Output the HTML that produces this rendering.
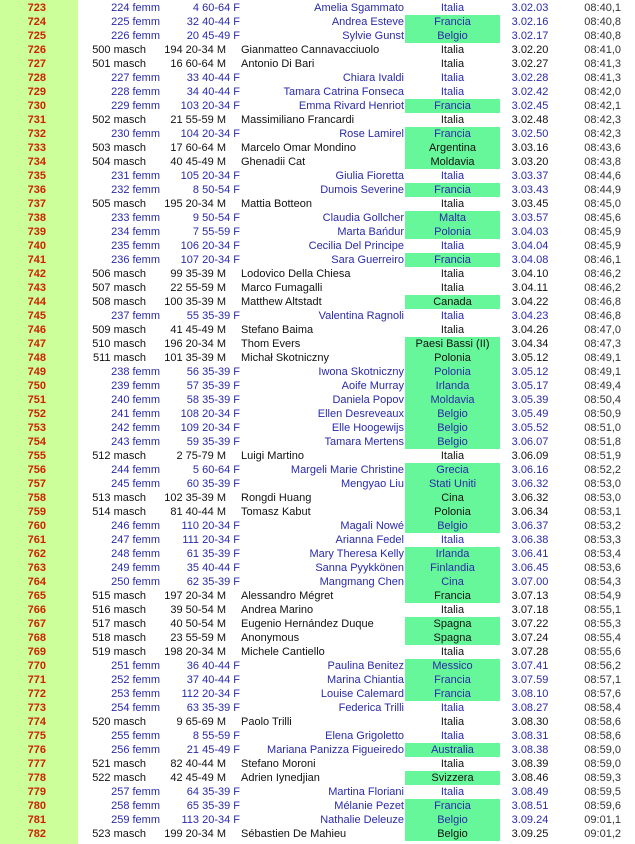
<!DOCTYPE html>
<html><head><meta charset="utf-8"><style>
html,body{margin:0;padding:0;background:#fff;width:635px;height:844px;overflow:hidden}
body{position:relative;font-family:"Liberation Sans",Arial,sans-serif;font-size:11px}
#band{position:absolute;left:0;top:0;width:78px;height:844px;background:#ccff99}
table{position:absolute;left:0;top:1px;border-collapse:collapse;table-layout:fixed;width:635px}
td{height:14px;padding:0;line-height:14px;white-space:nowrap;overflow:visible;color:#111}
td:nth-child(1){width:78px;text-align:right;padding-right:32px;box-sizing:border-box;color:#cc2200;font-weight:bold}
td:nth-child(2){width:85px;text-align:right;box-sizing:border-box;padding-right:17px}
td:nth-child(3){width:77px;text-align:right;box-sizing:border-box;padding-right:14px}
td:nth-child(4){width:165px;text-align:left;box-sizing:border-box;padding-left:1px}
td:nth-child(5){width:95px;text-align:center}
td:nth-child(6){width:60px;text-align:center}
td:nth-child(7){width:75px;text-align:right;box-sizing:border-box;padding-right:14px;color:#333}
tr.f td:nth-child(2){padding-right:3px;color:#2a2aa8}
tr.f td:nth-child(3){padding-right:0;color:#2a2aa8}
tr.f td:nth-child(4){text-align:right;padding-left:0;padding-right:1px;color:#2a2aa8}
tr.f td:nth-child(5),tr.f td:nth-child(6){color:#2a2aa8}
td.g{background:#66f79a}
</style></head><body>
<div id="band"></div>
<table>
<tr class="f"><td>723</td><td>224 femm</td><td>4 60-64 F</td><td>Amelia Sgammato</td><td>Italia</td><td>3.02.03</td><td>08:40,1</td></tr>
<tr class="f"><td>724</td><td>225 femm</td><td>32 40-44 F</td><td>Andrea Esteve</td><td class="g">Francia</td><td>3.02.16</td><td>08:40,8</td></tr>
<tr class="f"><td>725</td><td>226 femm</td><td>20 45-49 F</td><td>Sylvie Gunst</td><td class="g">Belgio</td><td>3.02.17</td><td>08:40,8</td></tr>
<tr><td>726</td><td>500 masch</td><td>194 20-34 M</td><td>Gianmatteo Cannavacciuolo</td><td>Italia</td><td>3.02.20</td><td>08:41,0</td></tr>
<tr><td>727</td><td>501 masch</td><td>16 60-64 M</td><td>Antonio Di Bari</td><td>Italia</td><td>3.02.27</td><td>08:41,3</td></tr>
<tr class="f"><td>728</td><td>227 femm</td><td>33 40-44 F</td><td>Chiara Ivaldi</td><td>Italia</td><td>3.02.28</td><td>08:41,3</td></tr>
<tr class="f"><td>729</td><td>228 femm</td><td>34 40-44 F</td><td>Tamara Catrina Fonseca</td><td>Italia</td><td>3.02.42</td><td>08:42,0</td></tr>
<tr class="f"><td>730</td><td>229 femm</td><td>103 20-34 F</td><td>Emma Rivard Henriot</td><td class="g">Francia</td><td>3.02.45</td><td>08:42,1</td></tr>
<tr><td>731</td><td>502 masch</td><td>21 55-59 M</td><td>Massimiliano Francardi</td><td>Italia</td><td>3.02.48</td><td>08:42,3</td></tr>
<tr class="f"><td>732</td><td>230 femm</td><td>104 20-34 F</td><td>Rose Lamirel</td><td class="g">Francia</td><td>3.02.50</td><td>08:42,3</td></tr>
<tr><td>733</td><td>503 masch</td><td>17 60-64 M</td><td>Marcelo Omar Mondino</td><td class="g">Argentina</td><td>3.03.16</td><td>08:43,6</td></tr>
<tr><td>734</td><td>504 masch</td><td>40 45-49 M</td><td>Ghenadii Cat</td><td class="g">Moldavia</td><td>3.03.20</td><td>08:43,8</td></tr>
<tr class="f"><td>735</td><td>231 femm</td><td>105 20-34 F</td><td>Giulia Fioretta</td><td>Italia</td><td>3.03.37</td><td>08:44,6</td></tr>
<tr class="f"><td>736</td><td>232 femm</td><td>8 50-54 F</td><td>Dumois Severine</td><td class="g">Francia</td><td>3.03.43</td><td>08:44,9</td></tr>
<tr><td>737</td><td>505 masch</td><td>195 20-34 M</td><td>Mattia Botteon</td><td>Italia</td><td>3.03.45</td><td>08:45,0</td></tr>
<tr class="f"><td>738</td><td>233 femm</td><td>9 50-54 F</td><td>Claudia Gollcher</td><td class="g">Malta</td><td>3.03.57</td><td>08:45,6</td></tr>
<tr class="f"><td>739</td><td>234 femm</td><td>7 55-59 F</td><td>Marta Bańdur</td><td class="g">Polonia</td><td>3.04.03</td><td>08:45,9</td></tr>
<tr class="f"><td>740</td><td>235 femm</td><td>106 20-34 F</td><td>Cecilia Del Principe</td><td>Italia</td><td>3.04.04</td><td>08:45,9</td></tr>
<tr class="f"><td>741</td><td>236 femm</td><td>107 20-34 F</td><td>Sara Guerreiro</td><td class="g">Francia</td><td>3.04.08</td><td>08:46,1</td></tr>
<tr><td>742</td><td>506 masch</td><td>99 35-39 M</td><td>Lodovico Della Chiesa</td><td>Italia</td><td>3.04.10</td><td>08:46,2</td></tr>
<tr><td>743</td><td>507 masch</td><td>22 55-59 M</td><td>Marco Fumagalli</td><td>Italia</td><td>3.04.11</td><td>08:46,2</td></tr>
<tr><td>744</td><td>508 masch</td><td>100 35-39 M</td><td>Matthew Altstadt</td><td class="g">Canada</td><td>3.04.22</td><td>08:46,8</td></tr>
<tr class="f"><td>745</td><td>237 femm</td><td>55 35-39 F</td><td>Valentina Ragnoli</td><td>Italia</td><td>3.04.23</td><td>08:46,8</td></tr>
<tr><td>746</td><td>509 masch</td><td>41 45-49 M</td><td>Stefano Baima</td><td>Italia</td><td>3.04.26</td><td>08:47,0</td></tr>
<tr><td>747</td><td>510 masch</td><td>196 20-34 M</td><td>Thom Evers</td><td class="g">Paesi Bassi (II)</td><td>3.04.34</td><td>08:47,3</td></tr>
<tr><td>748</td><td>511 masch</td><td>101 35-39 M</td><td>Michał Skotniczny</td><td class="g">Polonia</td><td>3.05.12</td><td>08:49,1</td></tr>
<tr class="f"><td>749</td><td>238 femm</td><td>56 35-39 F</td><td>Iwona Skotniczny</td><td class="g">Polonia</td><td>3.05.12</td><td>08:49,1</td></tr>
<tr class="f"><td>750</td><td>239 femm</td><td>57 35-39 F</td><td>Aoife Murray</td><td class="g">Irlanda</td><td>3.05.17</td><td>08:49,4</td></tr>
<tr class="f"><td>751</td><td>240 femm</td><td>58 35-39 F</td><td>Daniela Popov</td><td class="g">Moldavia</td><td>3.05.39</td><td>08:50,4</td></tr>
<tr class="f"><td>752</td><td>241 femm</td><td>108 20-34 F</td><td>Ellen Desreveaux</td><td class="g">Belgio</td><td>3.05.49</td><td>08:50,9</td></tr>
<tr class="f"><td>753</td><td>242 femm</td><td>109 20-34 F</td><td>Elle Hoogewijs</td><td class="g">Belgio</td><td>3.05.52</td><td>08:51,0</td></tr>
<tr class="f"><td>754</td><td>243 femm</td><td>59 35-39 F</td><td>Tamara Mertens</td><td class="g">Belgio</td><td>3.06.07</td><td>08:51,8</td></tr>
<tr><td>755</td><td>512 masch</td><td>2 75-79 M</td><td>Luigi Martino</td><td>Italia</td><td>3.06.09</td><td>08:51,9</td></tr>
<tr class="f"><td>756</td><td>244 femm</td><td>5 60-64 F</td><td>Margeli Marie Christine</td><td class="g">Grecia</td><td>3.06.16</td><td>08:52,2</td></tr>
<tr class="f"><td>757</td><td>245 femm</td><td>60 35-39 F</td><td>Mengyao Liu</td><td class="g">Stati Uniti</td><td>3.06.32</td><td>08:53,0</td></tr>
<tr><td>758</td><td>513 masch</td><td>102 35-39 M</td><td>Rongdi Huang</td><td class="g">Cina</td><td>3.06.32</td><td>08:53,0</td></tr>
<tr><td>759</td><td>514 masch</td><td>81 40-44 M</td><td>Tomasz Kabut</td><td class="g">Polonia</td><td>3.06.34</td><td>08:53,1</td></tr>
<tr class="f"><td>760</td><td>246 femm</td><td>110 20-34 F</td><td>Magali Nowé</td><td class="g">Belgio</td><td>3.06.37</td><td>08:53,2</td></tr>
<tr class="f"><td>761</td><td>247 femm</td><td>111 20-34 F</td><td>Arianna Fedel</td><td>Italia</td><td>3.06.38</td><td>08:53,3</td></tr>
<tr class="f"><td>762</td><td>248 femm</td><td>61 35-39 F</td><td>Mary Theresa Kelly</td><td class="g">Irlanda</td><td>3.06.41</td><td>08:53,4</td></tr>
<tr class="f"><td>763</td><td>249 femm</td><td>35 40-44 F</td><td>Sanna Pyykkönen</td><td class="g">Finlandia</td><td>3.06.45</td><td>08:53,6</td></tr>
<tr class="f"><td>764</td><td>250 femm</td><td>62 35-39 F</td><td>Mangmang Chen</td><td class="g">Cina</td><td>3.07.00</td><td>08:54,3</td></tr>
<tr><td>765</td><td>515 masch</td><td>197 20-34 M</td><td>Alessandro Mégret</td><td class="g">Francia</td><td>3.07.13</td><td>08:54,9</td></tr>
<tr><td>766</td><td>516 masch</td><td>39 50-54 M</td><td>Andrea Marino</td><td>Italia</td><td>3.07.18</td><td>08:55,1</td></tr>
<tr><td>767</td><td>517 masch</td><td>40 50-54 M</td><td>Eugenio Hernández Duque</td><td class="g">Spagna</td><td>3.07.22</td><td>08:55,3</td></tr>
<tr><td>768</td><td>518 masch</td><td>23 55-59 M</td><td>Anonymous</td><td class="g">Spagna</td><td>3.07.24</td><td>08:55,4</td></tr>
<tr><td>769</td><td>519 masch</td><td>198 20-34 M</td><td>Michele Cantiello</td><td>Italia</td><td>3.07.28</td><td>08:55,6</td></tr>
<tr class="f"><td>770</td><td>251 femm</td><td>36 40-44 F</td><td>Paulina Benitez</td><td class="g">Messico</td><td>3.07.41</td><td>08:56,2</td></tr>
<tr class="f"><td>771</td><td>252 femm</td><td>37 40-44 F</td><td>Marina Chiantia</td><td class="g">Francia</td><td>3.07.59</td><td>08:57,1</td></tr>
<tr class="f"><td>772</td><td>253 femm</td><td>112 20-34 F</td><td>Louise Calemard</td><td class="g">Francia</td><td>3.08.10</td><td>08:57,6</td></tr>
<tr class="f"><td>773</td><td>254 femm</td><td>63 35-39 F</td><td>Federica Trilli</td><td>Italia</td><td>3.08.27</td><td>08:58,4</td></tr>
<tr><td>774</td><td>520 masch</td><td>9 65-69 M</td><td>Paolo Trilli</td><td>Italia</td><td>3.08.30</td><td>08:58,6</td></tr>
<tr class="f"><td>775</td><td>255 femm</td><td>8 55-59 F</td><td>Elena Grigoletto</td><td>Italia</td><td>3.08.31</td><td>08:58,6</td></tr>
<tr class="f"><td>776</td><td>256 femm</td><td>21 45-49 F</td><td>Mariana Panizza Figueiredo</td><td class="g">Australia</td><td>3.08.38</td><td>08:59,0</td></tr>
<tr><td>777</td><td>521 masch</td><td>82 40-44 M</td><td>Stefano Moroni</td><td>Italia</td><td>3.08.39</td><td>08:59,0</td></tr>
<tr><td>778</td><td>522 masch</td><td>42 45-49 M</td><td>Adrien Iynedjian</td><td class="g">Svizzera</td><td>3.08.46</td><td>08:59,3</td></tr>
<tr class="f"><td>779</td><td>257 femm</td><td>64 35-39 F</td><td>Martina Floriani</td><td>Italia</td><td>3.08.49</td><td>08:59,5</td></tr>
<tr class="f"><td>780</td><td>258 femm</td><td>65 35-39 F</td><td>Mélanie Pezet</td><td class="g">Francia</td><td>3.08.51</td><td>08:59,6</td></tr>
<tr class="f"><td>781</td><td>259 femm</td><td>113 20-34 F</td><td>Nathalie Deleuze</td><td class="g">Belgio</td><td>3.09.24</td><td>09:01,1</td></tr>
<tr><td>782</td><td>523 masch</td><td>199 20-34 M</td><td>Sébastien De Mahieu</td><td class="g">Belgio</td><td>3.09.25</td><td>09:01,2</td></tr>
</table>
</body></html>
